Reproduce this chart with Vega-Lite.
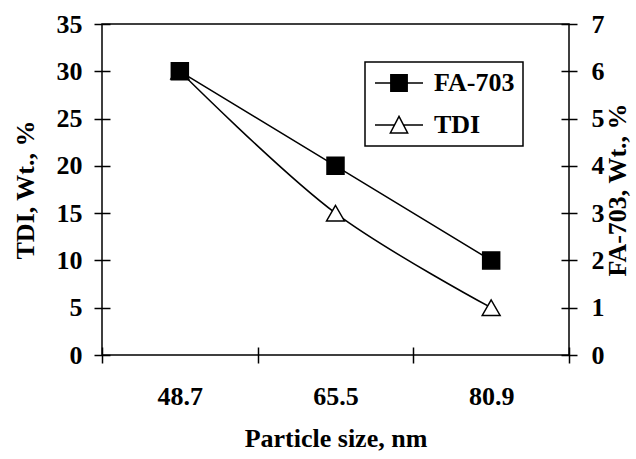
{
  "$schema": "https://vega.github.io/schema/vega-lite/v6.json",
  "width": 467,
  "height": 331,
  "autosize": {"type": "none"},
  "padding": {"left": 102, "top": 24, "right": 67, "bottom": 104},
  "background": "white",
  "config": {
    "view": {"stroke": "black", "strokeWidth": 1.5},
    "font": "Liberation Serif",
    "axis": {
      "labelFont": "Liberation Serif",
      "labelFontWeight": "bold",
      "labelFontSize": 26,
      "labelColor": "black",
      "titleFont": "Liberation Serif",
      "titleFontWeight": "bold",
      "titleFontSize": 26,
      "titleColor": "black",
      "domain": false,
      "grid": false,
      "tickColor": "black",
      "tickWidth": 1.5,
      "tickSize": 16,
      "offset": -8
    },
    "legend": {"strokeWidth": 1.5, "labelFont": "Liberation Serif", "labelFontWeight": "bold", "labelFontSize": 26, "labelColor": "black"}
  },
  "data": {
    "values": [
      {"size": "48.7", "series": "TDI", "value": 30},
      {"size": "65.5", "series": "TDI", "value": 15},
      {"size": "80.9", "series": "TDI", "value": 5},
      {"size": "48.7", "series": "FA-703", "value": 6},
      {"size": "65.5", "series": "FA-703", "value": 4},
      {"size": "80.9", "series": "FA-703", "value": 2}
    ]
  },
  "encoding": {
    "x": {
      "field": "size",
      "type": "nominal",
      "sort": ["48.7", "65.5", "80.9"],
      "scale": {"type": "band", "paddingInner": 0, "paddingOuter": 0},
      "axis": {"title": "Particle size, nm", "labelAngle": 0, "tickBand": "extent", "labelPadding": 20, "titlePadding": 16}
    }
  },
  "layer": [
    {
      "transform": [{"filter": "datum.series === 'TDI'"}],
      "encoding": {
        "y": {
          "field": "value",
          "type": "quantitative",
          "scale": {"domain": [0, 35], "nice": false},
          "axis": {"orient": "left", "values": [0, 5, 10, 15, 20, 25, 30, 35], "title": "TDI, Wt., %", "labelPadding": 12, "titlePadding": 18}
        }
      },
      "layer": [
        {"mark": {"type": "line", "interpolate": "catmull-rom", "color": "black", "strokeWidth": 1.5}},
        {
          "mark": {"type": "point", "shape": "triangle-up", "filled": true, "fill": "white", "stroke": "black", "strokeWidth": 1.5, "size": 320, "opacity": 1}
        },
        {
          "mark": {"type": "point", "filled": true, "stroke": "black", "strokeWidth": 1.5, "size": 0, "opacity": 1},
          "encoding": {
            "shape": {
              "field": "series",
              "type": "nominal",
              "scale": {
                "domain": ["FA-703", "TDI"],
                "range": ["M-2,0H2M-0.68,-0.68H0.68V0.68H-0.68Z", "M-2,0H-0.4M0.4,0H2M0,-0.72L0.72,0.66H-0.72Z"]
              },
              "legend": {
                "title": null,
                "orient": "none",
                "legendX": 263,
                "legendY": 38,
                "padding": 8,
                "rowPadding": 16,
                "symbolSize": 576,
                "symbolOffset": 13,
                "labelOffset": 22,
                "labelFont": "Liberation Serif",
                "labelFontWeight": "bold",
                "labelFontSize": 26,
                "labelColor": "black",
                "strokeColor": "black",
                "fillColor": "white",
                "symbolStrokeWidth": 1.5,
                "symbolOpacity": 1
              }
            },
            "fill": {
              "field": "series",
              "type": "nominal",
              "scale": {"domain": ["FA-703", "TDI"], "range": ["black", "white"]},
              "legend": null
            }
          }
        }
      ]
    },
    {
      "transform": [{"filter": "datum.series === 'FA-703'"}],
      "encoding": {
        "y": {
          "field": "value",
          "type": "quantitative",
          "scale": {"domain": [0, 7], "nice": false},
          "axis": {"orient": "right", "values": [0, 1, 2, 3, 4, 5, 6, 7], "title": "FA-703, Wt., %", "labelPadding": 14, "titlePadding": 0, "titleAngle": 270, "titleBaseline": "top"}
        }
      },
      "layer": [
        {"mark": {"type": "line", "color": "black", "strokeWidth": 1.5}},
        {
          "mark": {"type": "point", "shape": "square", "filled": true, "fill": "black", "stroke": "black", "strokeWidth": 1.5, "size": 289, "opacity": 1}
        }
      ]
    }
  ],
  "resolve": {"scale": {"y": "independent"}}
}
